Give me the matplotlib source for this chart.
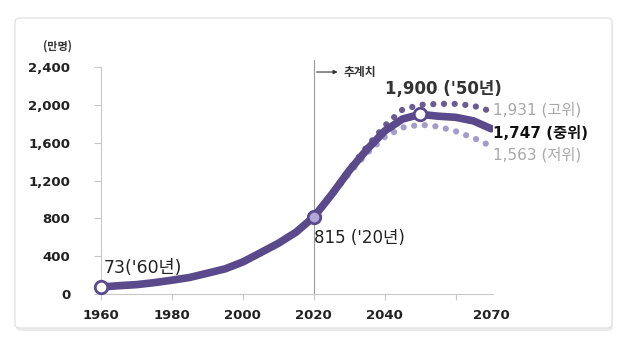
import matplotlib
matplotlib.use("Agg")
import matplotlib.pyplot as plt
from matplotlib.patches import FancyBboxPatch

plt.rcParams['font.family'] = ['Noto Sans CJK KR', 'DejaVu Sans']
LABEL_FONT = ['DejaVu Sans', 'Noto Sans CJK KR']

# elderly population (10k persons)
years_mid = [1960, 1965, 1970, 1975, 1980, 1985, 1990, 1995, 2000, 2005, 2010, 2015,
             2020, 2025, 2030, 2035, 2040, 2045, 2050, 2055, 2060, 2065, 2070]
pop_mid = [73, 88, 99, 120, 146, 175, 220, 266, 339, 437, 536, 654,
           815, 1051, 1306, 1529, 1724, 1850, 1900, 1880, 1868, 1830, 1747]

years_proj = [2020, 2025, 2030, 2035, 2040, 2045, 2050, 2055, 2060, 2065, 2070]
pop_high = [815, 1055, 1320, 1560, 1780, 1950, 2000, 2010, 2010, 1990, 1931]
pop_low = [815, 1040, 1280, 1490, 1660, 1760, 1790, 1770, 1720, 1650, 1563]

yticks = [0, 400, 800, 1200, 1600, 2000, 2400]
xticks = [1960, 1980, 2000, 2020, 2040, 2060, 2070]
xticklabels = ['1960', '1980', '2000', '2020', '2040', '', '2070']

c_mid = '#5b4a8b'
c_high = '#6a5b95'
c_low = '#a69ccb'

fig = plt.figure(figsize=(6.25, 3.43), dpi=100)

# outer frame with a faint shadow
shadow = FancyBboxPatch((16 / 625, 1 - 331 / 343), 597 / 625, 310 / 343,
                        boxstyle='round,pad=0,rounding_size=0.01',
                        transform=fig.transFigure, facecolor='#ececec',
                        edgecolor='none', zorder=-11)
fig.add_artist(shadow)
frame = FancyBboxPatch((15 / 625, 1 - 328 / 343), 597 / 625, 310 / 343,
                       boxstyle='round,pad=0,rounding_size=0.01',
                       transform=fig.transFigure, facecolor='white',
                       edgecolor='#e4e4e4', linewidth=1.0, zorder=-10)
fig.add_artist(frame)

ax = fig.add_axes([101 / 625, 1 - 294 / 343, (493 - 101) / 625, (294 - 67) / 343])
ax.set_facecolor('none')
ax.set_zorder(5)

ax.plot(years_proj, pop_high, color=c_high, linewidth=4.5,
        linestyle=(0, (0.01, 1.7)), dash_capstyle='round', zorder=2)
ax.plot(years_proj, pop_low, color=c_low, linewidth=4.5,
        linestyle=(0, (0.01, 1.7)), dash_capstyle='round', zorder=2)
ax.plot(years_mid, pop_mid, color=c_mid, linewidth=5.5,
        solid_capstyle='round', zorder=3)

# highlighted points
ax.plot([1960], [pop_mid[0]], 'o', markersize=9, markerfacecolor='white',
        markeredgecolor=c_mid, markeredgewidth=2, zorder=4, clip_on=False)
ax.plot([2020], [815], 'o', markersize=9, markerfacecolor='#b3a6d9',
        markeredgecolor=c_mid, markeredgewidth=2, zorder=4)
ax.plot([2050], [1900], 'o', markersize=9, markerfacecolor='white',
        markeredgecolor=c_mid, markeredgewidth=2, zorder=4)

# projection divider
ax.plot([2020, 2020], [0, 2475], color='#9a9a9a', linewidth=0.8,
        clip_on=False, zorder=1)
ax.annotate('', xy=(2027.5, 2347), xytext=(2020, 2347),
            arrowprops=dict(arrowstyle='-|>', color='#333333', lw=0.8,
                            mutation_scale=6), annotation_clip=False)
ax.text(2028.5, 2347, '추계치', fontsize=8.5, fontweight='bold',
        color='#333333', va='center', ha='left')

ax.text(1960.6, 275, "73('60년)", fontsize=12.5, color='#222222',
        va='center', ha='left', family=LABEL_FONT)
ax.text(2020.1, 592, "815 ('20년)", fontsize=12, color='#222222',
        va='center', ha='left', family=LABEL_FONT)
ax.text(2040, 2167, "1,900 ('50년)", fontsize=12, fontweight='bold',
        color='#333333', va='center', ha='left', family=LABEL_FONT)
ax.text(2070.6, 1945, "1,931 (고위)", fontsize=11, color='#a8a8a8',
        va='center', ha='left', family=LABEL_FONT)
ax.text(2070.6, 1702, "1,747 (중위)", fontsize=11, fontweight='bold',
        color='#111111', va='center', ha='left', family=LABEL_FONT)
ax.text(2070.6, 1469, "1,563 (저위)", fontsize=11, color='#a8a8a8',
        va='center', ha='left', family=LABEL_FONT)

fig.text(58 / 625, 1 - 46 / 343, '(만명)', fontsize=8, fontweight='bold',
         color='#333333', ha='center', va='center')

ax.set_xlim(1960, 2070.5)
ax.set_ylim(0, 2400)
ax.set_yticks(yticks)
ax.set_yticklabels([f'{v:,}' for v in yticks])
ax.set_xticks(xticks)
ax.set_xticklabels(xticklabels)
for lab in ax.get_yticklabels() + ax.get_xticklabels():
    lab.set_family('DejaVu Sans')
    lab.set_fontweight('bold')
    lab.set_fontsize(9.5)
    lab.set_color('#222222')
ax.tick_params(axis='y', length=5, color='#c8c8c8', pad=17)
ax.tick_params(axis='x', length=4, color='#c8c8c8', pad=7)
ax.xaxis.get_major_ticks()[-1].tick1line.set_visible(False)
for s in ['top', 'right']:
    ax.spines[s].set_visible(False)
for s in ['left', 'bottom']:
    ax.spines[s].set_color('#c8c8c8')
    ax.spines[s].set_linewidth(0.8)

fig.savefig('out.png', dpi=100)
